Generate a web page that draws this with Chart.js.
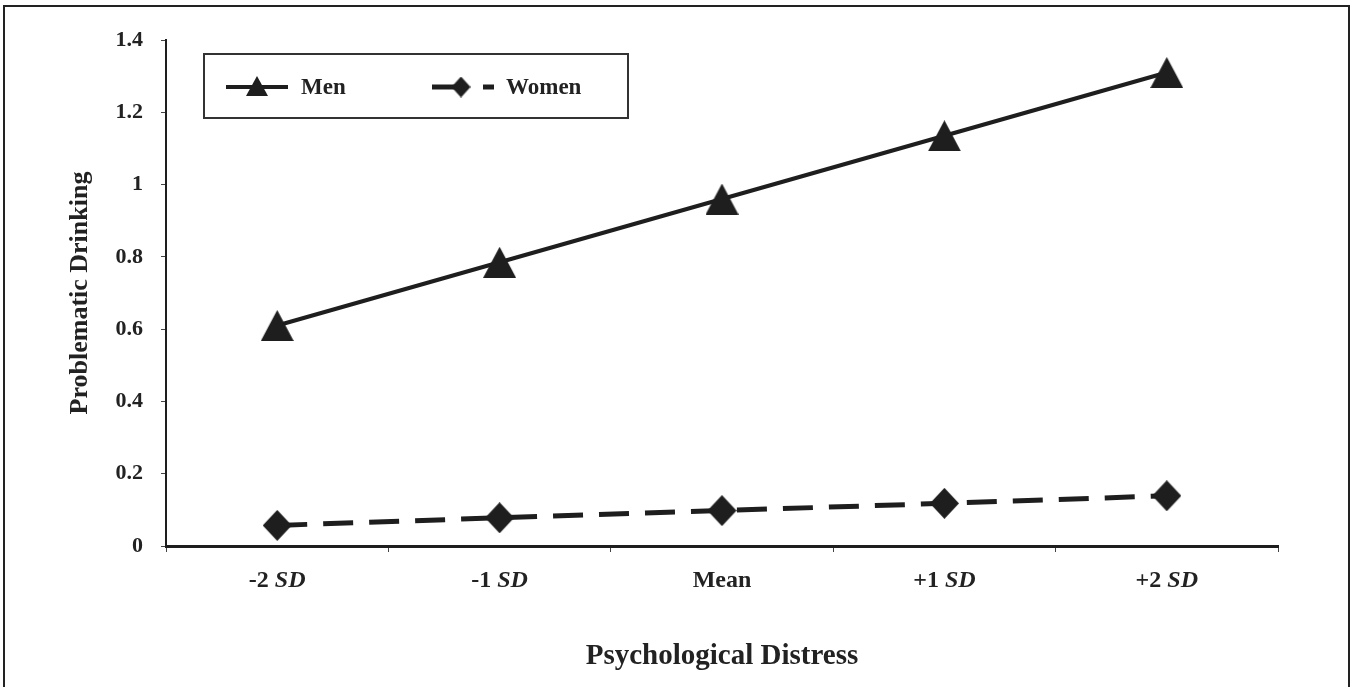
<!DOCTYPE html>
<html>
<head>
<meta charset="utf-8">
<script src="https://cdn.jsdelivr.net/npm/chart.js@4.4.1/dist/chart.umd.min.js"></script>
<style>
  html, body { margin: 0; padding: 0; background: #ffffff; overflow: hidden; }
  #frame { position: absolute; left: 3px; top: 5px; width: 1343px; height: 720px; border: 2px solid #222; box-sizing: content-box; }
  #wrap { position: absolute; left: 0; top: 0; width: 1353px; height: 687px; }
</style>
</head>
<body>
<div id="frame"></div>
<div id="wrap"><canvas id="c"></canvas></div>
<script>
const categories = ['-2 SD', '-1 SD', 'Mean', '+1 SD', '+2 SD'];
const menValues = [0.61, 0.785, 0.96, 1.135, 1.31];
const womenValues = [0.057, 0.078, 0.098, 0.118, 0.139];
const yTickValues = [0, 0.2, 0.4, 0.6, 0.8, 1, 1.2, 1.4];
const yTickLabels = ['0', '0.2', '0.4', '0.6', '0.8', '1', '1.2', '1.4'];
const seriesNames = ['Men', 'Women'];
const xTitle = 'Psychological Distress';
const yTitle = 'Problematic Drinking';

const INK = '#1e1e1e';
const SERIF = "'Liberation Serif', 'Times New Roman', serif";

function triangleCanvas(w, h) {
  const c = document.createElement('canvas');
  c.width = w; c.height = h;
  const g = c.getContext('2d');
  g.fillStyle = INK;
  g.beginPath();
  g.moveTo(w / 2, 0);
  g.lineTo(w, h);
  g.lineTo(0, h);
  g.closePath();
  g.fill();
  return c;
}
function diamondCanvas(w, h) {
  const c = document.createElement('canvas');
  c.width = w; c.height = h;
  const g = c.getContext('2d');
  g.fillStyle = INK;
  g.beginPath();
  g.moveTo(w / 2, 0);
  g.lineTo(w, h / 2);
  g.lineTo(w / 2, h);
  g.lineTo(0, h / 2);
  g.closePath();
  g.fill();
  return c;
}

const triBig = triangleCanvas(33, 31);
const diaBig = diamondCanvas(29, 31);
const triSmall = triangleCanvas(22, 20);
const diaSmall = diamondCanvas(19, 21);

const legendPlugin = {
  id: 'boxLegend',
  afterDraw(chart) {
    const ctx = chart.ctx;
    const a = chart.chartArea;
    const bx = a.left + 38, by = a.top + 14, bw = 424, bh = 64;
    ctx.save();
    ctx.fillStyle = '#fff';
    ctx.fillRect(bx, by, bw, bh);
    ctx.strokeStyle = '#333';
    ctx.lineWidth = 2;
    ctx.strokeRect(bx, by, bw, bh);
    const ly = by + 33;
    ctx.strokeStyle = INK;
    ctx.lineWidth = 4;
    ctx.setLineDash([]);
    ctx.beginPath();
    ctx.moveTo(bx + 22, ly); ctx.lineTo(bx + 84, ly); ctx.stroke();
    ctx.drawImage(triSmall, bx + 53 - 11, ly - 11);
    ctx.lineWidth = 5;
    ctx.setLineDash([34, 17]);
    ctx.beginPath();
    ctx.moveTo(bx + 228, ly); ctx.lineTo(bx + 290, ly); ctx.stroke();
    ctx.setLineDash([]);
    ctx.drawImage(diaSmall, bx + 257 - 9.5, ly - 10.5);
    ctx.fillStyle = '#222';
    ctx.font = 'bold 23px ' + SERIF;
    ctx.textBaseline = 'middle';
    ctx.textAlign = 'left';
    ctx.fillText(chart.data.datasets[0].label, bx + 97, ly + 1);
    ctx.fillText(chart.data.datasets[1].label, bx + 302, ly + 1);
    ctx.restore();
  }
};

const xLabelPlugin = {
  id: 'xLabels',
  afterDraw(chart) {
    const ctx = chart.ctx;
    const xs = chart.scales.x;
    ctx.save();
    ctx.fillStyle = '#222';
    ctx.textBaseline = 'middle';
    ctx.textAlign = 'left';
    const y = xs.top + 35;
    const normal = 'bold 24px ' + SERIF;
    const ital = 'italic bold 24px ' + SERIF;
    chart.data.labels.forEach((lab, i) => {
      const cx = xs.getPixelForTick(i);
      const parts = [];
      const m = lab.match(/^(.*?)(SD)$/);
      if (m) { parts.push([m[1], normal]); parts.push([m[2], ital]); }
      else parts.push([lab, normal]);
      let total = 0;
      parts.forEach(p => { ctx.font = p[1]; total += ctx.measureText(p[0]).width; });
      let x = cx - total / 2;
      parts.forEach(p => { ctx.font = p[1]; ctx.fillText(p[0], x, y); x += ctx.measureText(p[0]).width; });
    });
    ctx.restore();
  }
};

new Chart(document.getElementById('c'), {
  type: 'line',
  data: {
    labels: categories,
    datasets: [
      {
        label: seriesNames[0],
        data: menValues,
        borderColor: INK,
        backgroundColor: INK,
        borderWidth: 4,
        pointStyle: triBig,
        pointRadius: 16,
        pointHoverRadius: 16,
        tension: 0,
        fill: false
      },
      {
        label: seriesNames[1],
        data: womenValues,
        borderColor: INK,
        backgroundColor: INK,
        borderWidth: 5,
        borderDash: [30, 16],
        pointStyle: diaBig,
        pointRadius: 16,
        pointHoverRadius: 16,
        tension: 0,
        fill: false
      }
    ]
  },
  options: {
    responsive: true,
    maintainAspectRatio: false,
    animation: false,
    devicePixelRatio: 1,
    layout: { padding: { left: 0, top: 40, right: 75, bottom: 0 } },
    plugins: {
      legend: { display: false },
      tooltip: { enabled: false },
      title: { display: false }
    },
    scales: {
      x: {
        type: 'category',
        offset: true,
        grid: { display: true, drawOnChartArea: false, drawTicks: true, tickLength: 6, offset: true, color: '#444', lineWidth: 1 },
        border: { display: true, color: INK, width: 3 },
        ticks: { color: 'rgba(0,0,0,0)', font: { family: SERIF, size: 24, weight: 'bold' }, padding: 14, maxRotation: 0, autoSkip: false },
        title: { display: true, text: xTitle, color: '#222', font: { family: SERIF, size: 29, weight: 'bold' }, padding: { top: 0, bottom: 13 } },
        afterFit(s) { s.height = 141; }
      },
      y: {
        min: 0,
        max: 1.4,
        afterBuildTicks(s) { s.ticks = yTickValues.map(v => ({ value: v })); },
        grid: { display: true, drawOnChartArea: false, drawTicks: true, tickLength: 5, color: '#444', lineWidth: 1 },
        border: { display: true, color: INK, width: 2 },
        ticks: {
          color: '#222',
          font: { family: SERIF, size: 22, weight: 'bold' },
          padding: 18,
          callback: (v) => { const i = yTickValues.findIndex(t => Math.abs(t - v) < 1e-9); return i >= 0 ? yTickLabels[i] : ''; }
        },
        title: { display: true, text: yTitle, color: '#222', font: { family: SERIF, size: 26, weight: 'bold' }, padding: { top: 65, bottom: 0 } },
        afterFit(s) { s.width = 166; }
      }
    }
  },
  plugins: [legendPlugin, xLabelPlugin]
});
</script>
</body>
</html>
